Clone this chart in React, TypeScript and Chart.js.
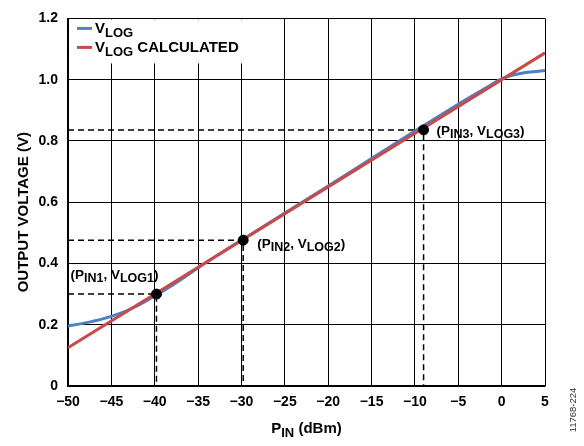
import React, { useEffect, useRef } from "react";
import { Chart, registerables } from "chart.js";

Chart.register(...registerables);

// ---- data ----
const vlogX = [-50, -48, -46, -44, -42, -40, -38, -36, -35, -34, -32, -30, -25, -20, -15, -10, -5, -2, 0, 1, 2, 3, 4, 5];
const vlogY = [0.196, 0.206, 0.219, 0.237, 0.262, 0.294, 0.328, 0.366, 0.386, 0.405, 0.441, 0.476, 0.565, 0.653, 0.743, 0.832, 0.92, 0.97, 1.003, 1.013, 1.019, 1.024, 1.027, 1.03];
const calcX = [-50, 5];
const calcY = [0.125, 1.0875];
const calPointX = [-39.8, -29.8, -9.0];
const calPointY = [0.3, 0.476, 0.836];
const calPointSub = [
  ["IN1", "LOG1"],
  ["IN2", "LOG2"],
  ["IN3", "LOG3"],
];
const legendMain = ["V", "V"];
const legendSub = ["LOG", "LOG"];
const legendTail = ["", " CALCULATED"];
const xTitleMain = "P";
const xTitleSub = "IN";
const xTitleTail = " (dBm)";
const yTitle = "OUTPUT VOLTAGE (V)";
const figCode = "11768-224";

const FONT = '"Liberation Sans", Arial, Helvetica, sans-serif';
const BLUE = "#4a82c4";
const RED = "#c94a4a";

type Part = { t: string; size: number; dy: number };

function drawParts(ctx: CanvasRenderingContext2D, parts: Part[], x: number, y: number, align: "left" | "center" = "left") {
  ctx.save();
  ctx.textBaseline = "alphabetic";
  ctx.textAlign = "left";
  let total = 0;
  for (const p of parts) {
    ctx.font = `bold ${p.size}px ${FONT}`;
    total += ctx.measureText(p.t).width;
  }
  let cx = align === "center" ? x - total / 2 : x;
  for (const p of parts) {
    ctx.font = `bold ${p.size}px ${FONT}`;
    ctx.fillText(p.t, cx, y + p.dy);
    cx += ctx.measureText(p.t).width;
  }
  ctx.restore();
}

const labelOffsets = [
  { dx: -86, dy: -15 },
  { dx: 14, dy: 8 },
  { dx: 13, dy: 5 },
];

const annotPlugin = {
  id: "annot",
  afterDraw(chart: any) {
    const ctx: CanvasRenderingContext2D = chart.ctx;
    const xs = chart.scales.x;
    const ys = chart.scales.y;
    const area = chart.chartArea;
    ctx.save();
    ctx.fillStyle = "#000";

    // point labels
    calPointX.forEach((px, i) => {
      const X = xs.getPixelForValue(px);
      const Y = ys.getPixelForValue(calPointY[i]);
      const o = labelOffsets[i];
      drawParts(
        ctx,
        [
          { t: "(P", size: 13.5, dy: 0 },
          { t: calPointSub[i][0], size: 12.5, dy: 3 },
          { t: ", V", size: 13.5, dy: 0 },
          { t: calPointSub[i][1], size: 12.5, dy: 3 },
          { t: ")", size: 13.5, dy: 0 },
        ],
        X + o.dx,
        Y + o.dy
      );
    });

    // legend box
    ctx.fillStyle = "#fff";
    ctx.fillRect(area.left + 1, area.top + 1, 214, 44);
    const colors = [BLUE, RED];
    const rowY = [area.top + 15, area.top + 34];
    for (let i = 0; i < 2; i++) {
      ctx.strokeStyle = colors[i];
      ctx.lineWidth = 3;
      ctx.beginPath();
      ctx.moveTo(area.left + 9, rowY[i] - 5);
      ctx.lineTo(area.left + 24, rowY[i] - 5);
      ctx.stroke();
      ctx.fillStyle = "#000";
      drawParts(
        ctx,
        [
          { t: legendMain[i], size: 15, dy: 0 },
          { t: legendSub[i], size: 13, dy: 4 },
          { t: legendTail[i], size: 15, dy: 0 },
        ],
        area.left + 27,
        rowY[i]
      );
    }

    // x title
    ctx.fillStyle = "#000";
    drawParts(
      ctx,
      [
        { t: xTitleMain, size: 15, dy: 0 },
        { t: xTitleSub, size: 13, dy: 4 },
        { t: xTitleTail, size: 15, dy: 0 },
      ],
      (area.left + area.right) / 2,
      433,
      "center"
    );

    // y title
    ctx.save();
    ctx.translate(24, (area.top + area.bottom) / 2 + 10);
    ctx.rotate(-Math.PI / 2);
    ctx.font = `bold 15px ${FONT}`;
    ctx.textAlign = "center";
    ctx.textBaseline = "middle";
    ctx.fillText(yTitle, 0, 0);
    ctx.restore();

    // figure code
    ctx.save();
    ctx.translate(573, 410);
    ctx.rotate(-Math.PI / 2);
    ctx.font = `9.5px ${FONT}`;
    ctx.fillStyle = "#333";
    ctx.textAlign = "center";
    ctx.textBaseline = "middle";
    ctx.fillText(figCode, 0, 0);
    ctx.restore();

    ctx.restore();
  },
};

export default function App() {
  const ref = useRef<HTMLCanvasElement | null>(null);
  useEffect(() => {
    if (!ref.current) return;
    const dashed = calPointX.map((px, i) => ({
      type: "line" as const,
      data: [
        { x: -50, y: calPointY[i] },
        { x: px, y: calPointY[i] },
        { x: px, y: 0 },
      ],
      borderColor: "#000",
      borderWidth: 1.5,
      borderDash: [6, 4],
      pointRadius: 0,
      tension: 0,
      order: 3,
    }));
    const chart = new Chart(ref.current, {
      type: "line",
      data: {
        datasets: [
          {
            data: calPointX.map((x, i) => ({ x, y: calPointY[i] })),
            showLine: false,
            pointRadius: 5,
            pointBackgroundColor: "#000",
            pointBorderColor: "#000",
            order: -1,
          },
          {
            data: calcX.map((x, i) => ({ x, y: calcY[i] })),
            borderColor: RED,
            borderWidth: 3,
            pointRadius: 0,
            tension: 0,
            order: 0,
          },
          {
            data: vlogX.map((x, i) => ({ x, y: vlogY[i] })),
            borderColor: BLUE,
            borderWidth: 3,
            pointRadius: 0,
            cubicInterpolationMode: "monotone",
            order: 1,
          },
          ...dashed,
        ] as any,
      },
      options: {
        animation: false,
        responsive: true,
        maintainAspectRatio: false,
        layout: { padding: { top: 10, right: 39, left: 0, bottom: 0 } },
        plugins: { legend: { display: false }, tooltip: { enabled: false } },
        scales: {
          x: {
            type: "linear",
            min: -50,
            max: 5,
            grid: { color: "#000", lineWidth: 1, drawTicks: false },
            border: { color: "#000", width: 1.5 },
            ticks: {
              stepSize: 5,
              padding: 8,
              color: "#000",
              font: { family: FONT, size: 14, weight: "bold" },
              callback: (v: any) => (v < 0 ? "\u2212" + Math.abs(v) : String(v)),
            },
            afterFit: (s: any) => {
              s.height = 60;
            },
          },
          y: {
            type: "linear",
            min: 0,
            max: 1.2,
            grid: { color: "#000", lineWidth: 1, drawTicks: false },
            border: { color: "#000", width: 1.5 },
            ticks: {
              stepSize: 0.2,
              padding: 10,
              color: "#000",
              font: { family: FONT, size: 14, weight: "bold" },
              callback: (v: any) => (Math.abs(v) < 1e-9 ? "0" : Number(v).toFixed(1)),
            },
            afterFit: (s: any) => {
              s.width = 68;
            },
          },
        },
      },
      plugins: [annotPlugin],
    });
    return () => chart.destroy();
  }, []);
  return (
    <div style={{ position: "absolute", left: 0, top: 0, width: 584, height: 446, background: "#fff" }}>
      <canvas ref={ref} />
    </div>
  );
}
